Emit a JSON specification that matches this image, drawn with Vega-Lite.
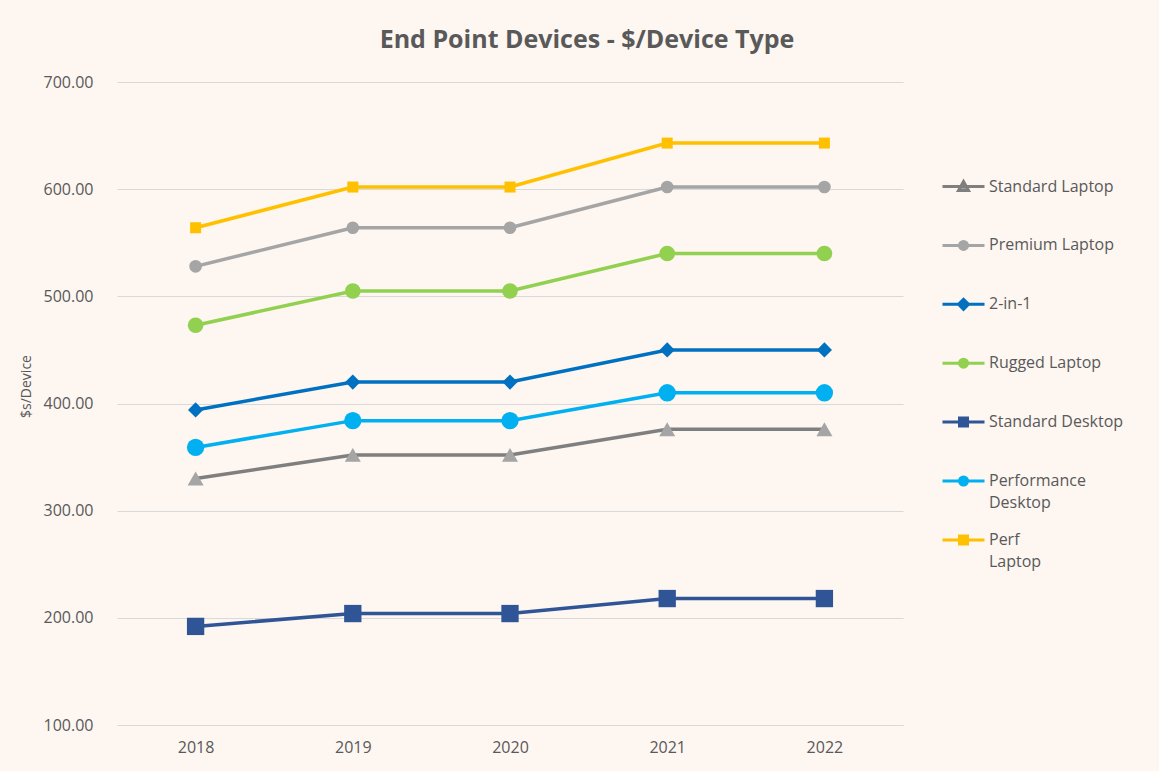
{
  "$schema": "https://vega.github.io/schema/vega-lite/v6.json",
  "width": 786,
  "height": 643,
  "autosize": {"type": "none"},
  "padding": {"left": 117, "top": 82, "right": 256, "bottom": 46},
  "background": "#FDF6F1",
  "title": {"text": "End Point Devices - $/Device Type", "font": "Open Sans", "fontSize": 25, "fontWeight": "bold", "color": "#595959", "anchor": "middle", "dx": 77, "offset": 21},
  "data": {"values": [
    {"year": "2018", "series": "Standard Laptop", "value": 330},
    {"year": "2019", "series": "Standard Laptop", "value": 352},
    {"year": "2020", "series": "Standard Laptop", "value": 352},
    {"year": "2021", "series": "Standard Laptop", "value": 376},
    {"year": "2022", "series": "Standard Laptop", "value": 376},
    {"year": "2018", "series": "Premium Laptop", "value": 528},
    {"year": "2019", "series": "Premium Laptop", "value": 564},
    {"year": "2020", "series": "Premium Laptop", "value": 564},
    {"year": "2021", "series": "Premium Laptop", "value": 602},
    {"year": "2022", "series": "Premium Laptop", "value": 602},
    {"year": "2018", "series": "2-in-1", "value": 394},
    {"year": "2019", "series": "2-in-1", "value": 420},
    {"year": "2020", "series": "2-in-1", "value": 420},
    {"year": "2021", "series": "2-in-1", "value": 450},
    {"year": "2022", "series": "2-in-1", "value": 450},
    {"year": "2018", "series": "Rugged Laptop", "value": 473},
    {"year": "2019", "series": "Rugged Laptop", "value": 505},
    {"year": "2020", "series": "Rugged Laptop", "value": 505},
    {"year": "2021", "series": "Rugged Laptop", "value": 540},
    {"year": "2022", "series": "Rugged Laptop", "value": 540},
    {"year": "2018", "series": "Standard Desktop", "value": 192},
    {"year": "2019", "series": "Standard Desktop", "value": 204},
    {"year": "2020", "series": "Standard Desktop", "value": 204},
    {"year": "2021", "series": "Standard Desktop", "value": 218},
    {"year": "2022", "series": "Standard Desktop", "value": 218},
    {"year": "2018", "series": "Performance Desktop", "value": 359},
    {"year": "2019", "series": "Performance Desktop", "value": 384},
    {"year": "2020", "series": "Performance Desktop", "value": 384},
    {"year": "2021", "series": "Performance Desktop", "value": 410},
    {"year": "2022", "series": "Performance Desktop", "value": 410},
    {"year": "2018", "series": "Perf Laptop", "value": 564},
    {"year": "2019", "series": "Perf Laptop", "value": 602},
    {"year": "2020", "series": "Perf Laptop", "value": 602},
    {"year": "2021", "series": "Perf Laptop", "value": 643},
    {"year": "2022", "series": "Perf Laptop", "value": 643}
  ]},
  "encoding": {
    "x": {"field": "year", "type": "ordinal", "scale": {"type": "point", "padding": 0.5},
      "axis": {"title": null, "labelAngle": 0, "ticks": false, "domain": true, "domainColor": "#D9D9D9", "grid": false, "labelPadding": 14}},
    "y": {"field": "value", "type": "quantitative", "scale": {"domain": [100, 700], "nice": false, "zero": false},
      "axis": {"title": "$s/Device", "titleFontSize": 14, "titleY": 304, "values": [100, 200, 300, 400, 500, 600, 700], "format": ".2f", "ticks": false, "domain": false, "grid": true, "gridColor": "#D9D9D9", "gridWidth": 1, "labelPadding": 24, "titlePadding": 10}}
  },
  "layer": [
    {"mark": {"type": "line", "strokeWidth": 3.5},
     "encoding": {"stroke": {"field": "series", "type": "nominal",
        "scale": {"domain": ["Standard Laptop", "Premium Laptop", "2-in-1", "Rugged Laptop", "Standard Desktop", "Performance Desktop", "Perf Laptop"],
                  "range": ["#7F7F7F", "#A5A5A5", "#0070C0", "#92D050", "#2F5597", "#00B0F0", "#FFC000"]},
        "legend": {"title": null,
           "labelExpr": "datum.label == 'Performance Desktop' ? ['Performance', 'Desktop'] : datum.label == 'Perf Laptop' ? ['Perf', 'Laptop'] : datum.label",
           "encoding": {"labels": {"lineHeight": {"value": 22}}}}}}},
    {"transform": [{"filter": "datum.series == 'Standard Laptop'"}], "mark": {"type": "point", "shape": "triangle-up", "size": 256, "filled": true, "opacity": 1, "color": "#A5A5A5"}},
    {"transform": [{"filter": "datum.series == 'Premium Laptop'"}], "mark": {"type": "point", "shape": "circle", "size": 160, "filled": true, "opacity": 1, "color": "#A5A5A5"}},
    {"transform": [{"filter": "datum.series == '2-in-1'"}], "mark": {"type": "point", "shape": "diamond", "size": 230, "filled": true, "opacity": 1, "color": "#0070C0"}},
    {"transform": [{"filter": "datum.series == 'Rugged Laptop'"}], "mark": {"type": "point", "shape": "circle", "size": 245, "filled": true, "opacity": 1, "color": "#92D050"}},
    {"transform": [{"filter": "datum.series == 'Standard Desktop'"}], "mark": {"type": "point", "shape": "square", "size": 300, "filled": true, "opacity": 1, "color": "#2F5597"}},
    {"transform": [{"filter": "datum.series == 'Performance Desktop'"}], "mark": {"type": "point", "shape": "circle", "size": 300, "filled": true, "opacity": 1, "color": "#00B0F0"}},
    {"transform": [{"filter": "datum.series == 'Perf Laptop'"}], "mark": {"type": "point", "shape": "square", "size": 121, "filled": true, "opacity": 1, "color": "#FFC000"}},
    {"transform": [{"filter": "false"}],
     "mark": {"type": "point", "filled": true},
     "encoding": {
       "fill": {"field": "series", "type": "nominal",
         "scale": {"domain": ["Standard Laptop", "Premium Laptop", "2-in-1", "Rugged Laptop", "Standard Desktop", "Performance Desktop", "Perf Laptop"],
                   "range": ["#A5A5A5", "#A5A5A5", "#0070C0", "#92D050", "#2F5597", "#00B0F0", "#FFC000"]},
         "legend": {"title": null,
           "labelExpr": "datum.label == 'Performance Desktop' ? ['Performance', 'Desktop'] : datum.label == 'Perf Laptop' ? ['Perf', 'Laptop'] : datum.label",
           "encoding": {"labels": {"lineHeight": {"value": 22}}}}},
       "stroke": {"field": "series", "type": "nominal",
         "scale": {"domain": ["Standard Laptop", "Premium Laptop", "2-in-1", "Rugged Laptop", "Standard Desktop", "Performance Desktop", "Perf Laptop"],
                   "range": ["#7F7F7F", "#A5A5A5", "#0070C0", "#92D050", "#2F5597", "#00B0F0", "#FFC000"]},
         "legend": {"title": null,
           "labelExpr": "datum.label == 'Performance Desktop' ? ['Performance', 'Desktop'] : datum.label == 'Perf Laptop' ? ['Perf', 'Laptop'] : datum.label",
           "encoding": {"labels": {"lineHeight": {"value": 22}}}}},
       "shape": {"field": "series", "type": "nominal",
         "scale": {"domain": ["Standard Laptop", "Premium Laptop", "2-in-1", "Rugged Laptop", "Standard Desktop", "Performance Desktop", "Perf Laptop"],
                   "range": [
                     "M0,-2.75L0,-2.75M0,2.75L0,2.75M-2.1,0H2.1M0,-0.5L0.5,0.4L-0.5,0.4Z",
                     "M0,-2.75L0,-2.75M0,2.75L0,2.75M-2.1,0H2.1M0.4,0A0.4,0.4,0,1,1,-0.4,0A0.4,0.4,0,1,1,0.4,0Z",
                     "M0,-2.75L0,-2.75M0,2.75L0,2.75M-2.1,0H2.1M0,-0.5L0.5,0L0,0.5L-0.5,0Z",
                     "M0,-2.75L0,-2.75M0,2.75L0,2.75M-2.1,0H2.1M0.4,0A0.4,0.4,0,1,1,-0.4,0A0.4,0.4,0,1,1,0.4,0Z",
                     "M0,-2.75L0,-2.75M0,2.75L0,2.75M-2.1,0H2.1M-0.4,-0.4H0.4V0.4H-0.4Z",
                     "M0,-2.75L0,-2.75M0,2.75L0,2.75M-2.1,0H2.1M0.4,0A0.4,0.4,0,1,1,-0.4,0A0.4,0.4,0,1,1,0.4,0Z",
                     "M0,-2.75L0,-2.75M0,2.75L0,2.75M-2.1,0H2.1M-0.4,-0.4H0.4V0.4H-0.4Z"
                   ]},
         "legend": {"title": null,
           "labelExpr": "datum.label == 'Performance Desktop' ? ['Performance', 'Desktop'] : datum.label == 'Perf Laptop' ? ['Perf', 'Laptop'] : datum.label",
           "encoding": {"labels": {"lineHeight": {"value": 22}}}}}
     }}
  ],
  "config": {
    "view": {"stroke": null},
    "font": "Open Sans",
    "axis": {"labelFont": "Open Sans", "titleFont": "Open Sans", "labelColor": "#595959", "titleColor": "#595959", "labelFontSize": 16, "titleFontSize": 14, "titleFontWeight": "normal"},
    "legend": {"orient": "none", "legendX": 835, "legendY": 93, "labelFont": "Open Sans", "labelFontSize": 16, "labelColor": "#595959", "labelLimit": 300, "symbolSize": 400, "symbolStrokeWidth": 3, "rowPadding": -8.1, "labelOffset": 14, "padding": 0, "symbolOpacity": 1}
  }
}
